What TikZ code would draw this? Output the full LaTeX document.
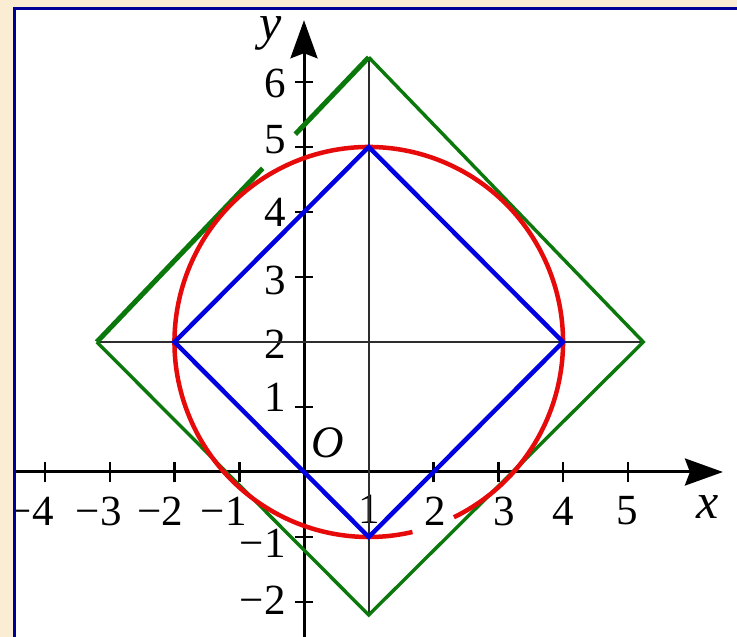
\documentclass[tikz,border=0pt]{standalone}
\usepackage{fontspec}
\setmainfont{Liberation Serif}
\usetikzlibrary{arrows.meta,calc}
\definecolor{bgbeige}{RGB}{250,237,212}
\definecolor{framblue}{RGB}{0,0,150}
\definecolor{sqblue}{RGB}{0,0,225}
\definecolor{circred}{RGB}{230,10,10}
\definecolor{sqgreen}{RGB}{10,120,10}
\definecolor{guide}{RGB}{45,45,45}
\tikzset{
 axisline/.style={line width=3pt, -{Stealth[length=38pt,width=27pt,inset=5pt]}},
 tickmark/.style={line width=2.5pt},
 ticklab/.style={font=\fontsize{43}{43}\selectfont, inner sep=0pt},
 axislab/.style={font=\fontsize{50}{50}\selectfont\itshape, inner sep=0pt},
 guideline/.style={guide, line width=1.6pt},
 bluesq/.style={sqblue, line width=4.5pt, line join=miter},
 redcirc/.style={circred, line width=4.5pt},
 greensq/.style={sqgreen, line width=3.4pt, line join=miter},
 greenthick/.style={sqgreen, line width=5pt},
}
\begin{document}
\begin{tikzpicture}[x=1pt,y=1pt]
\useasboundingbox (0,0) rectangle (737,637);
\fill[bgbeige] (0,0) rectangle (737,637);
\fill[white] (14,0) rectangle (737,628);
\begin{scope}
\clip (15.5,0) rectangle (737,626.5);
\begin{scope}[shift={(304,165)}, x=64.75pt, y=65pt]
 % axes
 \coordinate (xs) at (-4.6,0);
 \coordinate (xe) at (6.47,0);
 \coordinate (ys) at (0,-2.6);
 \coordinate (ye) at (0,6.95);
 \draw[axisline] (xs) -- (xe);
 \draw[axisline] (ys) -- (ye);
 \foreach \i in {-4,-3,-2,-1,1,2,3,4,5}
   \draw[tickmark] (\i,-0.16) -- (\i,0.16);
 \foreach \j in {-2,-1,1,2,3,4,5,6}
   \draw[tickmark] (-0.14,\j) -- (0.14,\j);
 % tick labels
 \node[ticklab] (lxm4) at (-4.22,-0.6) {−4};
 \node[ticklab] (lxm3) at (-3.17,-0.6) {−3};
 \node[ticklab] (lxm2) at (-2.22,-0.6) {−2};
 \node[ticklab] (lxm1) at (-1.24,-0.6) {−1};
 \node[ticklab] (lx1) at (1.0,-0.57) {1};
 \node[ticklab] (lx2) at (2.02,-0.6) {2};
 \node[ticklab] (lx3) at (3.1,-0.6) {3};
 \node[ticklab] (lx4) at (4.0,-0.6) {4};
 \node[ticklab] (lx5) at (4.99,-0.6) {5};
 \node[ticklab,anchor=east] (ly6) at (-0.28,5.97) {6};
 \node[ticklab,anchor=east] (ly5) at (-0.28,5.12) {5};
 \node[ticklab,anchor=east] (ly4) at (-0.28,4.0) {4};
 \node[ticklab,anchor=east] (ly3) at (-0.28,2.95) {3};
 \node[ticklab,anchor=east] (ly2) at (-0.28,1.97) {2};
 \node[ticklab,anchor=east] (ly1) at (-0.28,1.15) {1};
 \node[ticklab,anchor=east] (lym1) at (-0.28,-1.09) {−1};
 \node[ticklab,anchor=east] (lym2) at (-0.28,-1.97) {−2};
 \node[ticklab,font=\fontsize{45}{45}\selectfont\itshape] (lO) at (0.37,0.45) {O};
 \node[axislab] (lx) at (6.24,-0.54) {x};
 \node[axislab] (ly) at (-0.51,6.74) {y};
 % green square
 \coordinate (gT) at (1,6.38);
 \coordinate (gR) at (5.24,2);
 \coordinate (gB) at (1,-2.2);
 \coordinate (gL) at (-3.2,2);
 \coordinate (ga) at ($(gL)!0.61!(gT)$);
 \coordinate (gb) at ($(gL)!0.73!(gT)$);
 % guide lines
 \draw[guideline] (gT) -- (gB);
 \draw[guideline] (gL) -- (gR);
 \draw[greensq] (gT) -- (gR) -- (gB) -- (gL);
 \draw[greenthick] (gL) -- (ga);
 \draw[greenthick] (gb) -- (gT);
 % red circle
 \coordinate (cc) at (1,2);
 \draw[redcirc] ($(cc)+(-64:3)$) arc[start angle=-64, end angle=283, radius=3];
 % blue square
 \coordinate (b1) at (1,5);
 \coordinate (b2) at (4,2);
 \coordinate (b3) at (1,-1);
 \coordinate (b4) at (-2,2);
 \draw[bluesq] (b1) -- (b2) -- (b3) -- (b4) -- cycle;
\end{scope}
\end{scope}
\draw[framblue, line width=3pt] (14,0) -- (14,628) -- (737,628);
\end{tikzpicture}
\end{document}
